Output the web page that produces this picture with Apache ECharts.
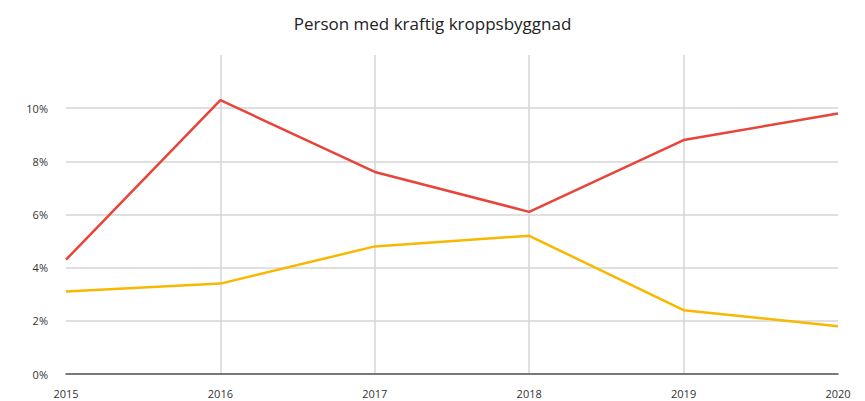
<!DOCTYPE html>
<html>
<head>
<meta charset="utf-8">
<script src="https://cdn.jsdelivr.net/npm/echarts@6/dist/echarts.min.js"></script>
<style>
  html, body { margin: 0; padding: 0; background: #fff; }
  #chart { width: 865px; height: 401px; }
</style>
</head>
<body>
<div id="chart"></div>
<script>
// Values
const years = ['2015', '2016', '2017', '2018', '2019', '2020'];
const redSeries = [4.3, 10.3, 7.6, 6.1, 8.8, 9.8];
const yellowSeries = [3.1, 3.4, 4.8, 5.2, 2.4, 1.8];
const titleText = 'Person med kraftig kroppsbyggnad';

const font = '"Open Sans", Lato, sans-serif';
const chart = echarts.init(document.getElementById('chart'), null, { renderer: 'svg' });
chart.setOption({
  backgroundColor: '#fff',
  animation: false,
  title: {
    text: titleText, left: 'center', top: 10,
    textStyle: { color: '#222', fontSize: 17, fontWeight: 'normal', fontFamily: font },
  },
  grid: { left: 66, right: 27, top: 55, bottom: 27 },
  xAxis: {
    type: 'category', data: years, boundaryGap: false,
    axisLine: { lineStyle: { color: '#555', width: 1.5 } },
    axisTick: { show: false },
    axisLabel: { color: '#333', fontSize: 11, fontFamily: font, margin: 14 },
    splitLine: { show: true, showMinLine: false, showMaxLine: false, lineStyle: { color: '#d6d6d6', width: 1.5 } },
  },
  yAxis: {
    type: 'value', min: 0, max: 12, interval: 2,
    axisLine: { show: false },
    axisTick: { show: false },
    axisLabel: {
      color: '#333', fontSize: 11, fontFamily: font, margin: 18,
      formatter: v => (v >= 12 ? '' : v + '%'),
    },
    splitLine: { show: true, showMaxLine: false, lineStyle: { color: '#d6d6d6', width: 1.5 } },
  },
  series: [
    { name: 'red', type: 'line', data: redSeries, showSymbol: false, lineStyle: { width: 2.5, color: '#e8443a' }, itemStyle: { color: '#e8443a' } },
    { name: 'yellow', type: 'line', data: yellowSeries, showSymbol: false, lineStyle: { width: 2.5, color: '#f9b800' }, itemStyle: { color: '#f9b800' } },
  ],
});
</script>
</body>
</html>
